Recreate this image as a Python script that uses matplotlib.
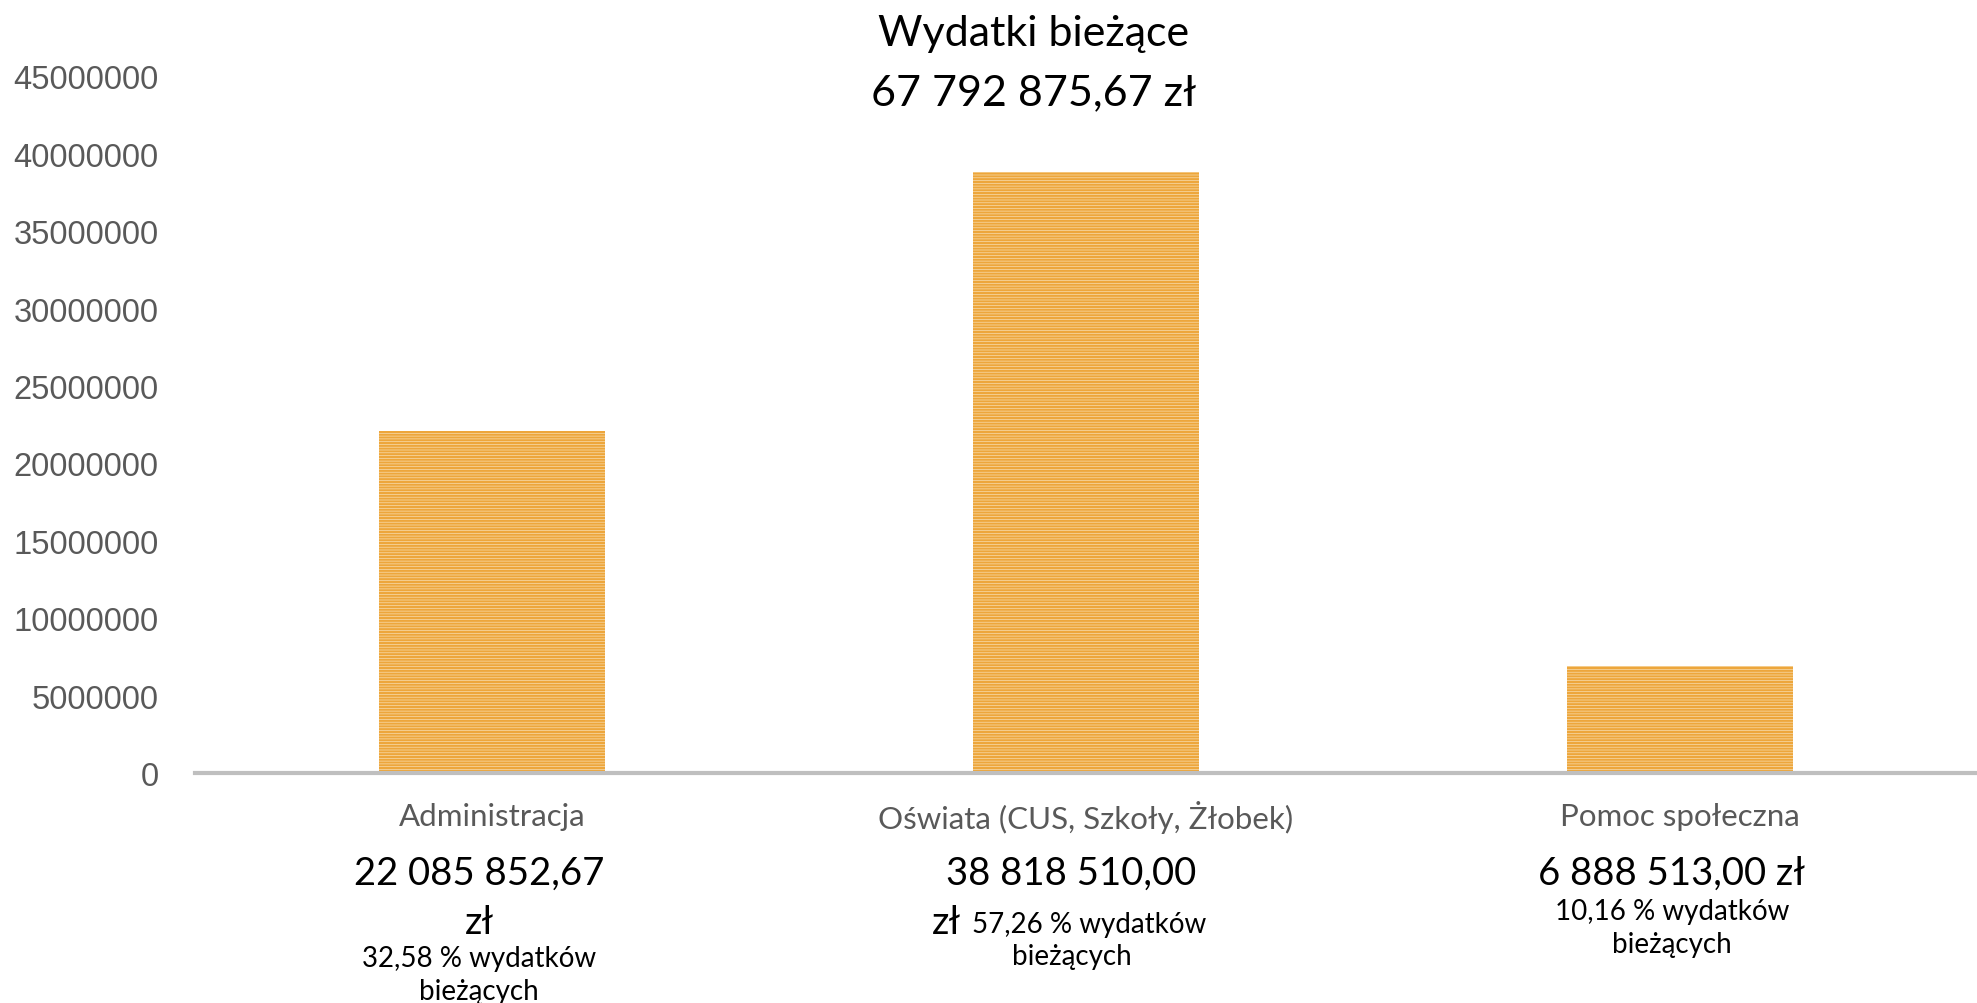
import matplotlib.pyplot as plt
import numpy as np

# Data
categories = ['Administracja', 'Oświata (CUS, Szkoły, Żłobek)', 'Pomoc społeczna']
values = [22085852.67, 38818510.00, 6888513.00]
amount_lines = [['22 085 852,67', 'zł'], ['38 818 510,00'], ['6 888 513,00 zł']]
share_lines = [['32,58 % wydatków', 'bieżących'],
               ['57,26 % wydatków', 'bieżących'],
               ['10,16 % wydatków', 'bieżących']]
title_lines = ['Wydatki bieżące', '67 792 875,67 zł']
yticks = np.arange(0, 45000001, 5000000)

plt.rcParams['hatch.linewidth'] = 1.5

fig = plt.figure(figsize=(19.77, 10.04), dpi=100)
ax = fig.add_axes([0.0986, 0.229, 0.9014, 0.694])

x = np.arange(len(categories))
ax.bar(x, values, width=0.38, color='#F8DDB0', edgecolor='#EDA63B',
       linewidth=0, hatch='------')

ax.set_xlim(-0.5, 2.5)
ax.set_ylim(0, 45000000)
ax.set_yticks(yticks)
ax.set_yticklabels([str(v) for v in yticks], fontsize=23.5, color='#595959',
                   family='Liberation Sans')
ax.tick_params(axis='y', length=0, pad=26)
ax.set_xticks([])
for s in ['top', 'right', 'left']:
    ax.spines[s].set_visible(False)
ax.spines['bottom'].set_color('#BFBFBF')
ax.spines['bottom'].set_linewidth(3)

big = 27.5
small = 20

# category labels under the axis
for i, cat in enumerate(categories):
    xf = (0.0986 + 0.9014 * (i + 0.5) / 3)
    fig.text(xf, 0.186, cat, ha='center', va='center', fontsize=22.5,
             color='#595959', family='Lato')

# value boxes (text wrapped like the original boxes)
box_x = [0.2424, 0.542, 0.8457]
for i in range(3):
    fig.text(box_x[i], 0.130, amount_lines[i][0], ha='center', va='center',
             fontsize=big, color='black', family='Lato')

# Administracja: "zł" on its own line
fig.text(box_x[0], 0.081, amount_lines[0][1], ha='center', va='center',
         fontsize=big, family='Lato')
fig.text(box_x[0], 0.045, share_lines[0][0], ha='center', va='center',
         fontsize=small, family='Lato')
fig.text(box_x[0], 0.012, share_lines[0][1], ha='center', va='center',
         fontsize=small, family='Lato')

# Oświata: "zł" followed by smaller share text on the same line
fig.text(0.486, 0.081, 'zł', ha='right', va='center', fontsize=big,
         family='Lato')
fig.text(0.4917, 0.079, share_lines[1][0], ha='left', va='center',
         fontsize=small, family='Lato')
fig.text(box_x[1], 0.047, share_lines[1][1], ha='center', va='center',
         fontsize=small, family='Lato')

# Pomoc społeczna
fig.text(box_x[2], 0.092, share_lines[2][0], ha='center', va='center',
         fontsize=small, family='Lato')
fig.text(box_x[2], 0.059, share_lines[2][1], ha='center', va='center',
         fontsize=small, family='Lato')

# title
fig.text(0.523, 0.966, title_lines[0], ha='center', va='center', fontsize=31,
         family='Lato')
fig.text(0.523, 0.907, title_lines[1], ha='center', va='center', fontsize=31,
         family='Lato')

fig.savefig('out.png', dpi=100)
